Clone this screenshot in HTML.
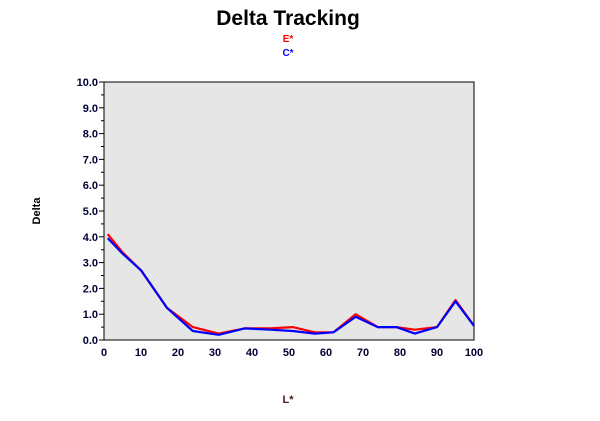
<!DOCTYPE html>
<html><head><meta charset="utf-8"><style>
html,body{margin:0;padding:0;background:#fff;}
svg{display:block;font-family:"Liberation Sans",sans-serif;}
</style></head><body>
<svg width="600" height="421" viewBox="0 0 600 421">
<text x="288" y="25" text-anchor="middle" font-size="21" font-weight="bold" fill="#000">Delta Tracking</text>
<text x="288" y="42" text-anchor="middle" font-size="10" font-weight="bold" fill="#ff0000">E*</text>
<text x="288" y="56" text-anchor="middle" font-size="10" font-weight="bold" fill="#0000ff">C*</text>
<rect x="104" y="82" width="370" height="258" fill="#e6e6e6" stroke="#000" stroke-width="1"/>
<g id="axes"></g>
<g id="series"></g>
<text x="40" y="211" text-anchor="middle" font-size="11" font-weight="bold" fill="#000" transform="rotate(-90 40 211)">Delta</text>
<text x="288" y="403" text-anchor="middle" font-size="11" font-weight="bold" fill="#402010">L*</text>
</svg>
<script>
const xValues=[1,5,10,17,24,31,38,45,51,57,62,68,74,79,84,90,95,100];
const eValues=[4.1,3.4,2.7,1.25,0.5,0.25,0.45,0.45,0.5,0.3,0.3,1.0,0.5,0.5,0.4,0.5,1.55,0.55];
const cValues=[3.95,3.35,2.7,1.25,0.35,0.2,0.45,0.4,0.35,0.25,0.3,0.9,0.5,0.5,0.25,0.5,1.5,0.55];
const xTicks=[0,10,20,30,40,50,60,70,80,90,100];
const yTicks=[0,1,2,3,4,5,6,7,8,9,10];
const NS="http://www.w3.org/2000/svg";
const L=104,R=474,T=82,B=340;
function sx(v){return L+(v/100)*(R-L);}
function sy(v){return B-(v/10)*(B-T);}
const axes=document.getElementById('axes');
function mk(tag,attrs,parent){const e=document.createElementNS(NS,tag);for(const k in attrs)e.setAttribute(k,attrs[k]);parent.appendChild(e);return e;}
yTicks.forEach(v=>{
  const y=sy(v);
  const t=mk('line',{x1:L-5,x2:L,y1:y,y2:y,stroke:'#000'},axes);
  
  
  if(v<10){const m=mk('line',{x1:L-3,x2:L,y1:sy(v+0.5),y2:sy(v+0.5),stroke:'#000'},axes);
    
    }
  const tx=mk('text',{x:L-6,y:y+4,'text-anchor':'end','font-size':'11','font-weight':'bold',fill:'#000033'},axes);
  tx.textContent=v.toFixed(1);
  
  
});
xTicks.forEach(v=>{
  const x=sx(v);
  const tx=mk('text',{x:x,y:B+16,'text-anchor':'middle','font-size':'11','font-weight':'bold',fill:'#000033'},axes);
  tx.textContent=v;
  
  
});
const series=document.getElementById('series');
function line(vals,color,name){
  const pts=xValues.map((x,i)=>sx(x).toFixed(1)+','+sy(vals[i]).toFixed(1)).join(' ');
  const p=mk('polyline',{points:pts,fill:'none',stroke:color,'stroke-width':'2.2','stroke-linejoin':'round'},series);
  
  
}
line(eValues,'#ff0000','series-e');
line(cValues,'#0000ff','series-c');
</script>
</body></html>
